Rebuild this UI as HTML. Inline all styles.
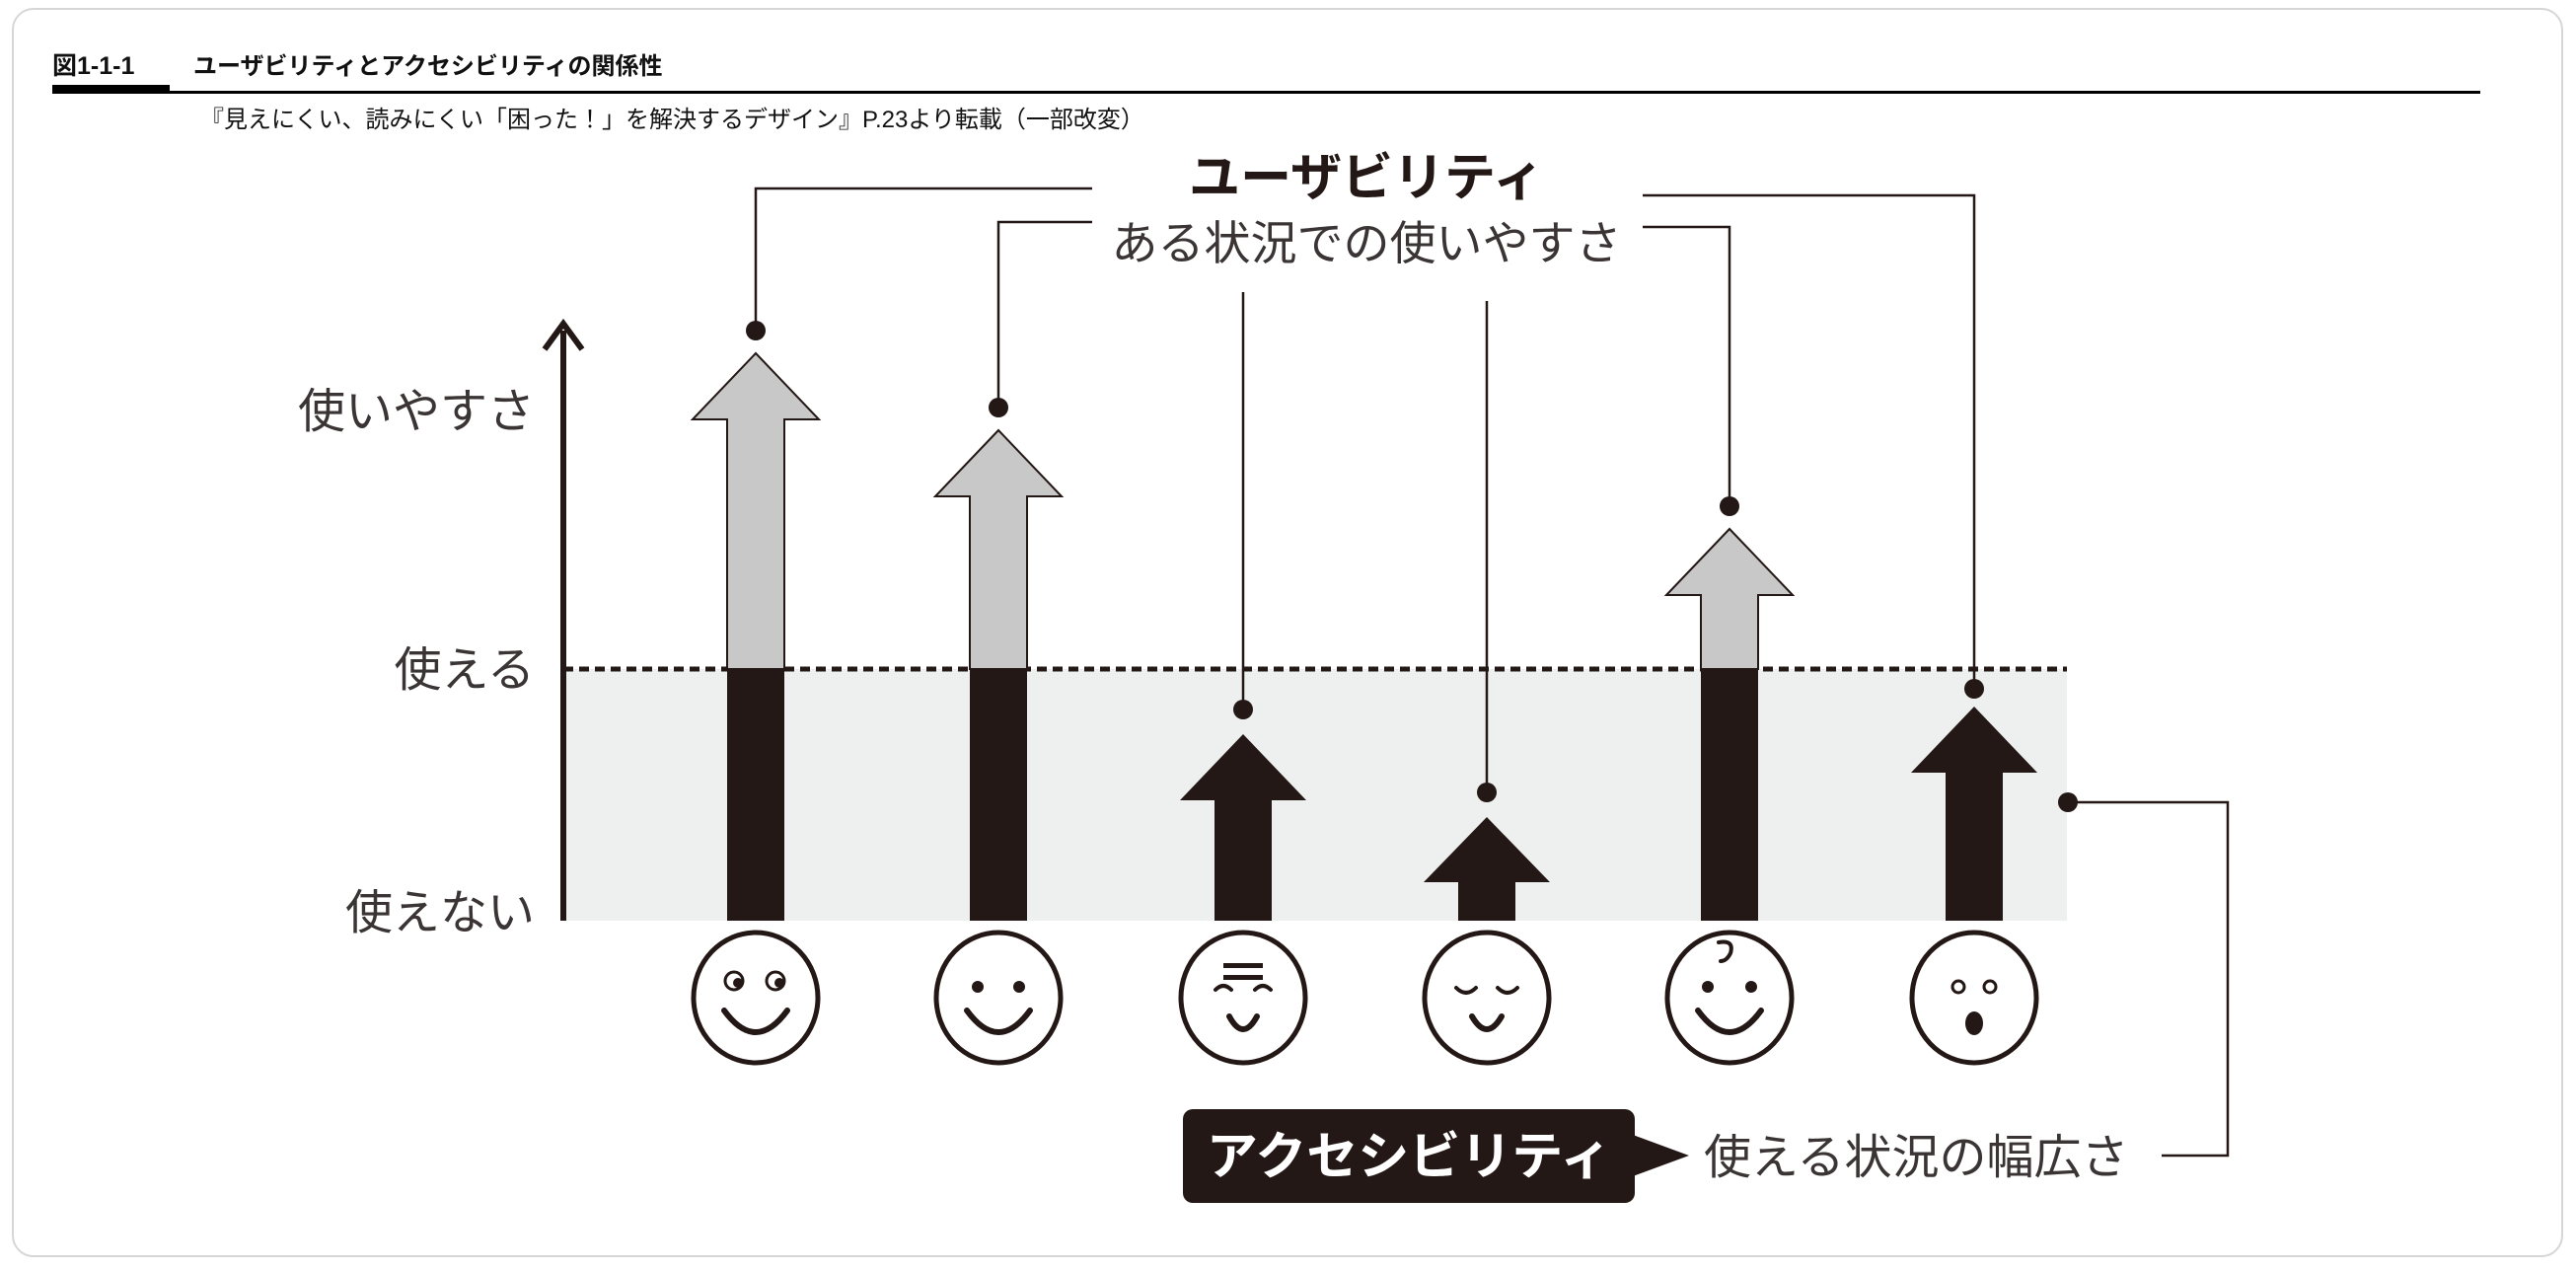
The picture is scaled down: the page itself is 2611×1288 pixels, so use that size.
<!DOCTYPE html>
<html><head><meta charset="utf-8"><style>
html,body{margin:0;padding:0;background:#fff;}
body{width:2611px;height:1288px;overflow:hidden;position:relative;font-family:"Liberation Sans","Noto Sans CJK JP",sans-serif;}
.card{position:absolute;left:12px;top:8px;width:2586px;height:1266px;border:2px solid #d6d6d6;border-radius:22px;box-sizing:border-box;}
</style></head><body>
<div class="card"></div>
<svg width="2611" height="1288" viewBox="0 0 2611 1288" style="position:absolute;left:0;top:0" font-family="'Liberation Sans','Noto Sans CJK JP',sans-serif">
<text x="53" y="75" font-size="25" font-weight="bold" fill="#111">図1-1-1</text>
<text x="196" y="75" font-size="24" font-weight="bold" fill="#111">ユーザビリティとアクセシビリティの関係性</text>
<rect x="53" y="86" width="119" height="9" fill="#000"/>
<rect x="53" y="92" width="2461" height="3" fill="#000"/>
<text x="203" y="129" font-size="24" fill="#111">『見えにくい、読みにくい「困った！」を解決するデザイン』P.23より転載（一部改変）</text>

<rect x="571" y="678" width="1524" height="255" fill="#eeefef"/>
<line x1="571" y1="678" x2="2095" y2="678" stroke="#231815" stroke-width="5" stroke-dasharray="10,6"/>
<line x1="571" y1="335" x2="571" y2="933" stroke="#231815" stroke-width="6"/>
<polyline points="552,354 571,328 590,354" fill="none" stroke="#231815" stroke-width="6"/>

<g fill="#3a3434" font-size="48" text-anchor="end">
<text x="542" y="433">使いやすさ</text>
<text x="542" y="695">使える</text>
<text x="542" y="941">使えない</text>
</g>

<g stroke="#231815" stroke-width="2.5" fill="none">
<polyline points="766,335 766,191 1107,191"/>
<polyline points="1012,413 1012,225 1107,225"/>
<line x1="1260" y1="719" x2="1260" y2="296"/>
<line x1="1507" y1="803" x2="1507" y2="305"/>
<polyline points="1753,513 1753,230 1665,230"/>
<polyline points="2001,698 2001,198 1665,198"/>
<polyline points="2096,813 2258,813 2258,1171 2191,1171"/>
</g>
<g fill="#231815">
<circle cx="766" cy="335" r="10"/><circle cx="1012" cy="413" r="10"/><circle cx="1260" cy="719" r="10"/>
<circle cx="1507" cy="803" r="10"/><circle cx="1753" cy="513" r="10"/><circle cx="2001" cy="698" r="10"/><circle cx="2096" cy="813" r="10"/>
</g>

<text x="1385" y="198" font-size="52" font-weight="bold" fill="#231815" text-anchor="middle">ユーザビリティ</text>
<text x="1385" y="263" font-size="47" fill="#3a3434" text-anchor="middle">ある状況での使いやすさ</text>

<g stroke="#231815" stroke-width="2">
<polygon points="766,358 830,425 795,425 795,678 737,678 737,425 702,425" fill="#c8c8c8"/>
<polygon points="1012,436 1076,503 1041,503 1041,678 983,678 983,503 948,503" fill="#c8c8c8"/>
<polygon points="1753,536 1817,603 1782,603 1782,678 1724,678 1724,603 1689,603" fill="#c8c8c8"/>
</g>
<g fill="#231815">
<rect x="737" y="678" width="58" height="255"/>
<rect x="983" y="678" width="58" height="255"/>
<rect x="1724" y="678" width="58" height="255"/>
<polygon points="1260,744 1324,811 1289,811 1289,933 1231,933 1231,811 1196,811"/>
<polygon points="1507,828 1571,894 1536,894 1536,933 1478,933 1478,894 1443,894"/>
<polygon points="2001,716 2065,783 2030,783 2030,933 1972,933 1972,783 1937,783"/>
</g>

<g stroke="#231815" stroke-width="5" fill="#fff">
<ellipse cx="766" cy="1011" rx="63" ry="66"/>
<ellipse cx="1012" cy="1011" rx="63" ry="66"/>
<ellipse cx="1260" cy="1011" rx="63" ry="66"/>
<ellipse cx="1507" cy="1011" rx="63" ry="66"/>
<ellipse cx="1753" cy="1011" rx="63" ry="66"/>
<ellipse cx="2001" cy="1011" rx="63" ry="66"/>
</g>
<g stroke="#231815" stroke-width="6" fill="none" stroke-linecap="round">
<path d="M734,1024 Q766,1068 798,1024"/>
<path d="M980,1024 Q1012,1068 1044,1024"/>
<path d="M1246,1030 Q1260,1056 1274,1030"/>
<path d="M1492,1030 Q1507,1056 1522,1030"/>
<path d="M1721,1024 Q1753,1068 1785,1024"/>
<circle cx="744" cy="994" r="9" stroke-width="3"/><circle cx="786" cy="994" r="9" stroke-width="3"/>
<path d="M1232,1003 Q1240,995 1248,1003 M1272,1003 Q1280,995 1288,1003" stroke-width="4"/>
<path d="M1476,1001 Q1486,1011 1496,1001 M1518,1001 Q1528,1011 1538,1001" stroke-width="4"/>
<path d="M1742,955 Q1758,952 1754,966 Q1750,974 1744,974" stroke-width="4"/>
<circle cx="1985" cy="1000" r="6" stroke-width="3"/><circle cx="2017" cy="1000" r="6" stroke-width="3"/>
</g>
<g fill="#231815">
<circle cx="748" cy="996" r="5"/><circle cx="790" cy="996" r="5"/>
<circle cx="991" cy="1000" r="6"/><circle cx="1033" cy="1000" r="6"/>
<circle cx="1731" cy="1000" r="6"/><circle cx="1775" cy="1000" r="6"/>
<rect x="1240" y="976" width="40" height="5"/><rect x="1240" y="988" width="40" height="5"/>
<ellipse cx="2001" cy="1037" rx="9" ry="12"/>
</g>

<rect x="1199" y="1124" width="458" height="95" rx="10" fill="#231815"/>
<polygon points="1655,1150 1712,1171 1655,1192" fill="#231815"/>
<text x="1428" y="1190" font-size="52" font-weight="bold" fill="#fff" text-anchor="middle">アクセシビリティ</text>
<text x="1727" y="1189" font-size="48" fill="#3a3434">使える状況の幅広さ</text>
</svg>
</body></html>
